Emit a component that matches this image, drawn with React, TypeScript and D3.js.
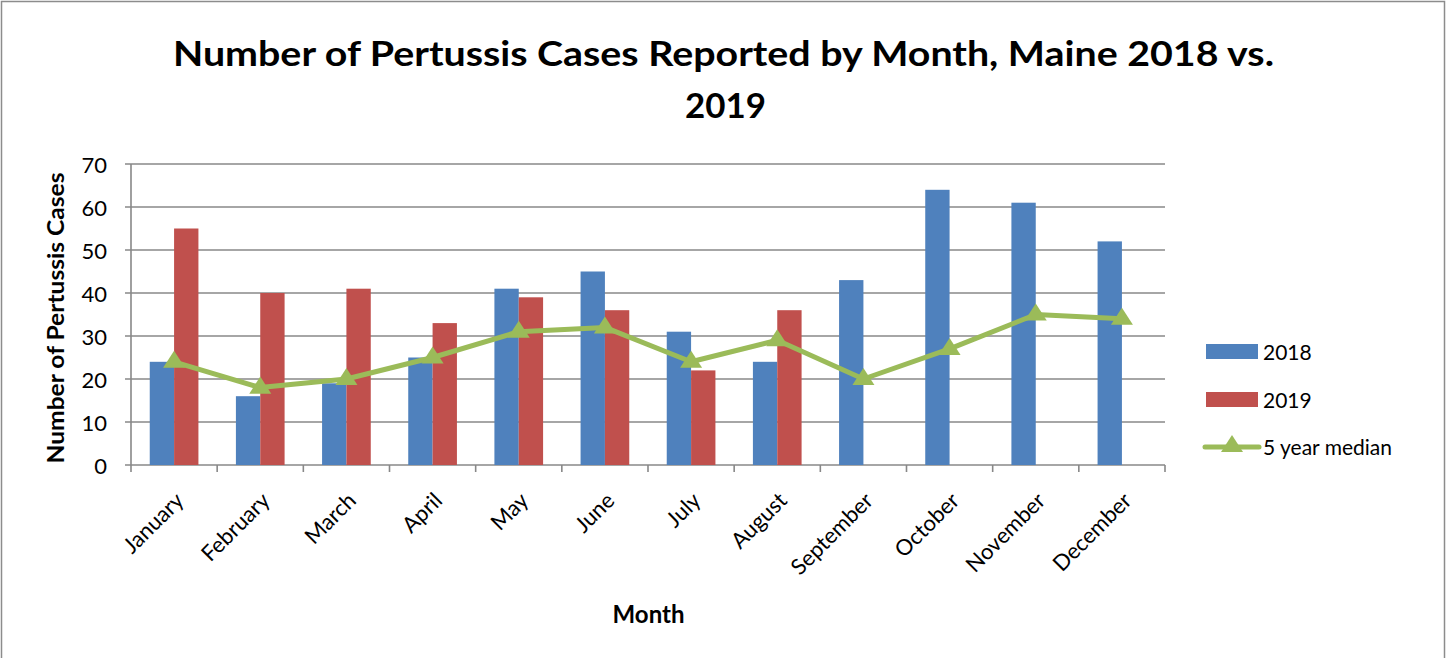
import React from "react";
import * as d3 from "d3";

const months = ["January","February","March","April","May","June","July","August","September","October","November","December"];
const cases2018 = [24,16,19,25,41,45,31,24,43,64,61,52];
const cases2019: (number|null)[] = [55,40,41,33,39,36,22,36,null,null,null,null];
const median5 = [24,18,20,25,31,32,24,29,20,27,35,34];
const yTicks = [0,10,20,30,40,50,60,70];

const W = 1448, H = 658;
const FONT = "Lato, 'Open Sans', sans-serif";
const BLUE = "#4F81BD", RED = "#C0504D", GREEN = "#9BBB59", GRID = "#888888";

export default function App() {
  const left = 131, right = 1165, top = 164, bottom = 465;
  const x = d3.scaleBand<string>().domain(months).range([left, right]).paddingInner(0).paddingOuter(0);
  const y = d3.scaleLinear().domain([0,70]).range([bottom, top]);
  const bw = x.bandwidth();
  const barW = bw / 3.54;
  const line = d3.line<number>().x((_, i) => x(months[i])! + bw / 2).y(d => y(d));
  const tri = (cx: number, cy: number, s = 11) => `M${cx},${cy - s} L${cx + s * 1.0},${cy + s * 0.55} L${cx - s * 1.0},${cy + s * 0.55} Z`;
  return (
    <svg width={W} height={H} style={{ position: "absolute", left: 0, top: 0, background: "#fff" }} fontFamily={FONT}>
      <rect x={1.5} y={1.5} width={1443} height={700} fill="#fff" stroke="#8c8c8c" strokeWidth={1.5} />
      <text x={723.5} y={66} textAnchor="middle" fontSize={34} fontWeight="bold" textLength={1101} lengthAdjust="spacingAndGlyphs">Number of Pertussis Cases Reported by Month, Maine 2018 vs.</text>
      <text x={725.5} y={118} textAnchor="middle" fontSize={34} fontWeight="bold" textLength={81} lengthAdjust="spacingAndGlyphs">2019</text>
      {yTicks.map(t => (
        <g key={t}>
          <line x1={left - 6} x2={right} y1={y(t)} y2={y(t)} stroke={GRID} strokeWidth={1.6} />
          <text x={107} y={y(t) + 9} textAnchor="end" fontSize={22}>{t}</text>
        </g>
      ))}
      <line x1={left} x2={left} y1={top} y2={bottom} stroke={GRID} strokeWidth={1.6} />
      {months.map((m) => (
        <line key={"t" + m} x1={x(m)!} x2={x(m)!} y1={bottom} y2={bottom + 7} stroke={GRID} strokeWidth={1.6} />
      ))}
      <line x1={right} x2={right} y1={bottom} y2={bottom + 7} stroke={GRID} strokeWidth={1.6} />
      {months.map((m, i) => {
        const cx = x(m)! + bw / 2;
        return (
          <g key={m}>
            <rect x={cx - barW} y={y(cases2018[i])} width={barW} height={bottom - y(cases2018[i])} fill={BLUE} />
            {cases2019[i] != null && (
              <rect x={cx} y={y(cases2019[i]!)} width={barW} height={bottom - y(cases2019[i]!)} fill={RED} />
            )}
            <text transform={`translate(${cx + 11},502) rotate(-45)`} textAnchor="end" fontSize={22}>{m}</text>
          </g>
        );
      })}
      <path d={line(median5)!} fill="none" stroke={GREEN} strokeWidth={5} strokeLinejoin="round" />
      {median5.map((v, i) => (
        <path key={"m" + i} d={tri(x(months[i])! + bw / 2, y(v))} fill={GREEN} />
      ))}
      <text transform={`translate(64,318) rotate(-90)`} textAnchor="middle" fontSize={23} fontWeight="bold" textLength={291} lengthAdjust="spacingAndGlyphs">Number of Pertussis Cases</text>
      <text x={648.5} y={623} textAnchor="middle" fontSize={24} fontWeight="bold">Month</text>
      <rect x={1206} y={344} width={52} height={15} fill={BLUE} />
      <text x={1263} y={360} fontSize={21}>2018</text>
      <rect x={1206} y={392} width={52} height={15} fill={RED} />
      <text x={1263} y={408} fontSize={21}>2019</text>
      <line x1={1205} x2={1259} y1={447} y2={447} stroke={GREEN} strokeWidth={5} strokeLinecap="round" />
      <path d={tri(1232, 446)} fill={GREEN} />
      <text x={1263} y={455} fontSize={21}>5 year median</text>
    </svg>
  );
}
